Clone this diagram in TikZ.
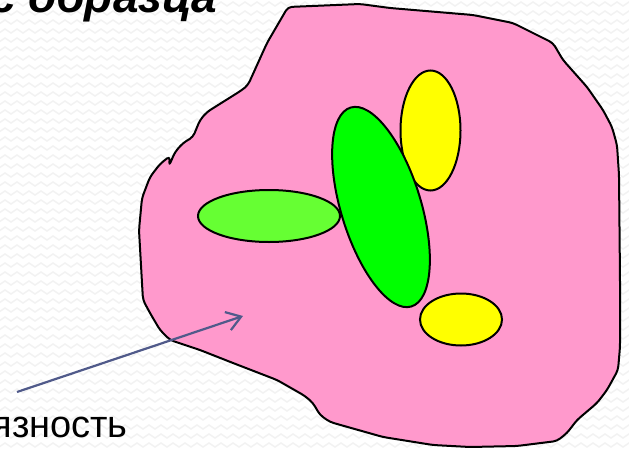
\documentclass[tikz,border=0pt]{standalone}
\usepackage{fontspec}
\setmainfont{Liberation Sans}
\usetikzlibrary{shapes.geometric,arrows.meta,decorations.pathmorphing}
\definecolor{blobpink}{HTML}{FF99CC}
\definecolor{cellyellow}{HTML}{FFFF00}
\definecolor{cellgreen}{HTML}{00FF00}
\definecolor{celllight}{HTML}{66FF33}
\definecolor{arrowblue}{HTML}{505A8A}
\definecolor{bgzig}{HTML}{F2F2F2}
\tikzset{
  zigrow/.style={draw=bgzig, line width=1.5pt, decorate,
    decoration={zigzag, segment length=12pt, amplitude=2pt}},
  blob/.style={draw=black, fill=blobpink, line width=2pt, rounded corners=4pt, line join=round},
  cell/.style={ellipse, draw=black, line width=2pt, inner sep=0pt, outer sep=0pt},
  pointer/.style={draw=arrowblue, line width=2.2pt, -{Straight Barb[length=14pt,width=19pt]}},
}
\begin{document}
\begin{tikzpicture}[x=1pt,y=-1pt]
\useasboundingbox (0,0) rectangle (629,450);
\fill[white] (0,0) rectangle (629,450);
\foreach \r in {4,13,...,450} \draw[zigrow] (-10,\r) -- (645,\r);

\draw[blob] (288,7) -- (360,4) -- (390,8) -- (473,15) -- (513,23) -- (533,33)
  -- (553,43) -- (563,60) -- (587,87) -- (603,110) -- (612,127) -- (617,145)
  -- (619,175) -- (620,280) -- (620,347) -- (618,370) -- (607,390) -- (597,403)
  -- (577,420) -- (567,433) -- (557,441) -- (517,446) -- (470,447) -- (433,445)
  -- (383,437) -- (330,422) -- (320,415) -- (313,403) -- (305,396) -- (277,380)
  -- (233,363) -- (200,350) -- (170,340) -- (160,330) -- (150,313) -- (143,300)
  -- (142,283) -- (139,230) -- (142,198) -- (150,177) -- (160,164) -- (170,156)
  -- (169,166) -- (175,152) -- (183,143) -- (193,137) -- (200,120) -- (207,112)
  -- (242,90) -- (248,85) -- (267,43) -- cycle;

\node[cell, fill=celllight, minimum width=142pt, minimum height=52pt] (glight) at (269,216) {};
\node[cell, fill=cellyellow, minimum width=60pt, minimum height=120pt] (ytop) at (430.5,130.5) {};
\node[cell, fill=cellgreen, minimum width=80pt, minimum height=208pt, rotate=17] (gtilt) at (381,207) {};
\node[cell, fill=cellyellow, minimum width=82pt, minimum height=52pt] (ybot) at (461,319.5) {};

\node[anchor=base east, inner sep=0pt, font=\fontsize{46}{50}\selectfont\bfseries\itshape] (title) at (217,12) {с образца};
\node[anchor=base east, inner sep=0pt, font=\fontsize{38}{42}\selectfont] (label) at (128,437) {язность};

\coordinate (astart) at (17,392);
\coordinate (aend) at (243,316);
\draw[pointer] (astart) -- (aend);
\end{tikzpicture}
\end{document}
